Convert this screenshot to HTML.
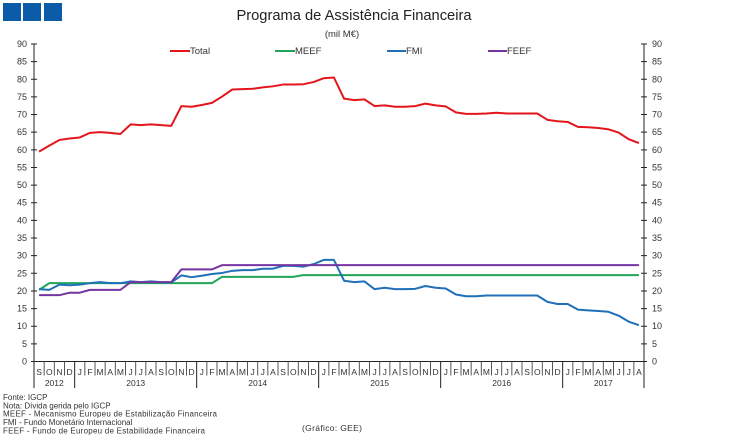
<!DOCTYPE html>
<html><head><meta charset="utf-8"><style>
html,body{margin:0;padding:0;background:#fff;}
svg{display:block;}
text{font-family:"Liberation Sans",Arial,sans-serif;}
</style></head><body>
<svg width="750" height="445" viewBox="0 0 750 445" xmlns="http://www.w3.org/2000/svg">
<rect width="750" height="445" fill="#fff"/>
<!-- logo -->
<rect x="3" y="3" width="18" height="18" fill="#0b5ba6"/>
<rect x="23" y="3" width="18" height="18" fill="#0b5ba6"/>
<rect x="44" y="3" width="18" height="18" fill="#0b5ba6"/>
<!-- title -->
<text x="354" y="20" font-size="14.7" text-anchor="middle" fill="#222">Programa de Assistência Financeira</text>
<text x="342" y="37" font-size="9.5" text-anchor="middle" fill="#333">(mil M€)</text>
<!-- legend -->
<g font-size="9.5" fill="#333">
<line x1="170" y1="51" x2="190" y2="51" stroke="#e3161c" stroke-width="2"/><text x="190" y="54">Total</text>
<line x1="275" y1="51" x2="295" y2="51" stroke="#1fa558" stroke-width="2"/><text x="295" y="54">MEEF</text>
<line x1="387" y1="51" x2="406" y2="51" stroke="#1f70b8" stroke-width="2"/><text x="406" y="54">FMI</text>
<line x1="488" y1="51" x2="507" y2="51" stroke="#7535a3" stroke-width="2"/><text x="507" y="54">FEEF</text>
</g>
<!-- axes -->
<g stroke="#222" stroke-width="1" fill="none">
<line x1="34" y1="44" x2="34" y2="388"/>
<line x1="644" y1="44" x2="644" y2="388"/>
<line x1="34" y1="361.5" x2="644" y2="361.5"/>
<path d="M31 361.5h6M31 343.86h6M31 326.22h6M31 308.58h6M31 290.94h6M31 273.3h6M31 255.66h6M31 238.02h6M31 220.38h6M31 202.74h6M31 185.1h6M31 167.46h6M31 149.82h6M31 132.18h6M31 114.54h6M31 96.9h6M31 79.26h6M31 61.62h6M31 43.98h6"/>
<path d="M641 361.5h6M641 343.86h6M641 326.22h6M641 308.58h6M641 290.94h6M641 273.3h6M641 255.66h6M641 238.02h6M641 220.38h6M641 202.74h6M641 185.1h6M641 167.46h6M641 149.82h6M641 132.18h6M641 114.54h6M641 96.9h6M641 79.26h6M641 61.62h6M641 43.98h6"/>
</g>
<g transform="translate(34,0) scale(10.1667,1)" stroke="#555" fill="none">
<path vector-effect="non-scaling-stroke" d="M1 361.5v14M2 361.5v14M3 361.5v14M5 361.5v14M6 361.5v14M7 361.5v14M8 361.5v14M9 361.5v14M10 361.5v14M11 361.5v14M12 361.5v14M13 361.5v14M14 361.5v14M15 361.5v14M17 361.5v14M18 361.5v14M19 361.5v14M20 361.5v14M21 361.5v14M22 361.5v14M23 361.5v14M24 361.5v14M25 361.5v14M26 361.5v14M27 361.5v14M29 361.5v14M30 361.5v14M31 361.5v14M32 361.5v14M33 361.5v14M34 361.5v14M35 361.5v14M36 361.5v14M37 361.5v14M38 361.5v14M39 361.5v14M41 361.5v14M42 361.5v14M43 361.5v14M44 361.5v14M45 361.5v14M46 361.5v14M47 361.5v14M48 361.5v14M49 361.5v14M50 361.5v14M51 361.5v14M53 361.5v14M54 361.5v14M55 361.5v14M56 361.5v14M57 361.5v14M58 361.5v14M59 361.5v14"/>
<path vector-effect="non-scaling-stroke" stroke="#222" d="M4 361.5v26.5M16 361.5v26.5M28 361.5v26.5M40 361.5v26.5M52 361.5v26.5"/>
</g>
<!-- y labels -->
<g font-size="9" fill="#333" text-anchor="end">
<text x="27" y="364.5">0</text><text x="27" y="346.9">5</text><text x="27" y="329.2">10</text><text x="27" y="311.6">15</text><text x="27" y="293.9">20</text><text x="27" y="276.3">25</text><text x="27" y="258.7">30</text><text x="27" y="241">35</text><text x="27" y="223.4">40</text><text x="27" y="205.7">45</text><text x="27" y="188.1">50</text><text x="27" y="170.5">55</text><text x="27" y="152.8">60</text><text x="27" y="135.2">65</text><text x="27" y="117.5">70</text><text x="27" y="99.9">75</text><text x="27" y="82.3">80</text><text x="27" y="64.6">85</text><text x="27" y="47">90</text>
</g>
<g font-size="9" fill="#333">
<text x="652" y="364.5">0</text><text x="652" y="346.9">5</text><text x="652" y="329.2">10</text><text x="652" y="311.6">15</text><text x="652" y="293.9">20</text><text x="652" y="276.3">25</text><text x="652" y="258.7">30</text><text x="652" y="241">35</text><text x="652" y="223.4">40</text><text x="652" y="205.7">45</text><text x="652" y="188.1">50</text><text x="652" y="170.5">55</text><text x="652" y="152.8">60</text><text x="652" y="135.2">65</text><text x="652" y="117.5">70</text><text x="652" y="99.9">75</text><text x="652" y="82.3">80</text><text x="652" y="64.6">85</text><text x="652" y="47">90</text>
</g>
<!-- month labels -->
<g font-size="8.5" fill="#333" text-anchor="middle">
<text x="39.08" y="375">S</text><text x="49.25" y="375">O</text><text x="59.42" y="375">N</text><text x="69.58" y="375">D</text>
<text x="79.75" y="375">J</text><text x="89.92" y="375">F</text><text x="100.08" y="375">M</text><text x="110.25" y="375">A</text><text x="120.42" y="375">M</text><text x="130.58" y="375">J</text><text x="140.75" y="375">J</text><text x="150.92" y="375">A</text><text x="161.08" y="375">S</text><text x="171.25" y="375">O</text><text x="181.42" y="375">N</text><text x="191.58" y="375">D</text>
<text x="201.75" y="375">J</text><text x="211.92" y="375">F</text><text x="222.08" y="375">M</text><text x="232.25" y="375">A</text><text x="242.42" y="375">M</text><text x="252.58" y="375">J</text><text x="262.75" y="375">J</text><text x="272.92" y="375">A</text><text x="283.08" y="375">S</text><text x="293.25" y="375">O</text><text x="303.42" y="375">N</text><text x="313.58" y="375">D</text>
<text x="323.75" y="375">J</text><text x="333.92" y="375">F</text><text x="344.08" y="375">M</text><text x="354.25" y="375">A</text><text x="364.42" y="375">M</text><text x="374.58" y="375">J</text><text x="384.75" y="375">J</text><text x="394.92" y="375">A</text><text x="405.08" y="375">S</text><text x="415.25" y="375">O</text><text x="425.42" y="375">N</text><text x="435.58" y="375">D</text>
<text x="445.75" y="375">J</text><text x="455.92" y="375">F</text><text x="466.08" y="375">M</text><text x="476.25" y="375">A</text><text x="486.42" y="375">M</text><text x="496.58" y="375">J</text><text x="506.75" y="375">J</text><text x="516.92" y="375">A</text><text x="527.08" y="375">S</text><text x="537.25" y="375">O</text><text x="547.42" y="375">N</text><text x="557.58" y="375">D</text>
<text x="567.75" y="375">J</text><text x="577.92" y="375">F</text><text x="588.08" y="375">M</text><text x="598.25" y="375">A</text><text x="608.42" y="375">M</text><text x="618.58" y="375">J</text><text x="628.75" y="375">J</text><text x="638.92" y="375">A</text>
</g>
<g font-size="8.5" fill="#333" text-anchor="middle">
<text x="54.3" y="386">2012</text><text x="135.7" y="386">2013</text><text x="257.7" y="386">2014</text><text x="379.7" y="386">2015</text><text x="501.7" y="386">2016</text><text x="603.3" y="386">2017</text>
</g>
<!-- series -->
<g transform="translate(39.085,361.5) scale(10.1667,-3.528)" fill="none" stroke-width="2" stroke-linejoin="round">
<polyline vector-effect="non-scaling-stroke" stroke="#e3161c" points="0,59.5 1,61.2 2,62.8 3,63.2 4,63.5 5,64.8 6,65 7,64.8 8,64.5 9,67.2 10,67 11,67.2 12,67 13,66.8 14,72.4 15,72.2 16,72.7 17,73.3 18,75.1 19,77.1 20,77.2 21,77.3 22,77.7 23,78 24,78.5 25,78.5 26,78.6 27,79.2 28,80.3 29,80.5 30,74.5 31,74.1 32,74.3 33,72.4 34,72.6 35,72.2 36,72.2 37,72.4 38,73.1 39,72.6 40,72.3 41,70.6 42,70.2 43,70.2 44,70.3 45,70.5 46,70.3 47,70.3 48,70.3 49,70.3 50,68.5 51,68.1 52,67.9 53,66.5 54,66.4 55,66.2 56,65.8 57,64.9 58,63 59,61.9"/>
<polyline vector-effect="non-scaling-stroke" stroke="#1fa558" points="0,20.3 1,22.2 17,22.2 18,24 25,24 26,24.5 59,24.5"/>
<polyline vector-effect="non-scaling-stroke" stroke="#1f70b8" points="0,20.5 1,20.3 2,21.8 3,21.6 4,21.8 5,22.2 6,22.5 7,22.2 8,22.2 9,22.7 10,22.5 11,22.7 12,22.5 13,22.4 14,24.4 15,23.9 16,24.3 17,24.8 18,25.1 19,25.7 20,25.9 21,25.9 22,26.3 23,26.3 24,27.1 25,27.1 26,26.9 27,27.6 28,28.8 29,28.8 30,22.9 31,22.5 32,22.7 33,20.5 34,20.9 35,20.5 36,20.5 37,20.6 38,21.4 39,20.9 40,20.7 41,19 42,18.5 43,18.5 44,18.7 45,18.7 46,18.7 47,18.7 48,18.7 49,18.7 50,16.9 51,16.3 52,16.3 53,14.7 54,14.5 55,14.3 56,14.1 57,13 58,11.3 59,10.3"/>
<polyline vector-effect="non-scaling-stroke" stroke="#7535a3" points="0,18.8 2,18.8 3,19.5 4,19.5 5,20.3 8,20.3 9,22.5 13,22.5 14,26.1 17,26.1 18,27.3 59,27.3"/>
</g>
<!-- footnotes -->
<g font-size="8" fill="#333">
<text x="3" y="400">Fonte: IGCP</text>
<text x="3" y="408.3">Nota: Dívida gerida pelo IGCP</text>
<text x="3" y="416.7" textLength="214" lengthAdjust="spacing">MEEF - Mecanismo Europeu de Estabilização Financeira</text>
<text x="3" y="425">FMI - Fundo Monetário Internacional</text>
<text x="3" y="433.3" textLength="202" lengthAdjust="spacing">FEEF - Fundo de Europeu de Estabilidade Financeira</text>
</g>
<text x="302" y="431" font-size="8.5" fill="#333" textLength="60" lengthAdjust="spacing">(Gráfico: GEE)</text>
</svg>
</body></html>
